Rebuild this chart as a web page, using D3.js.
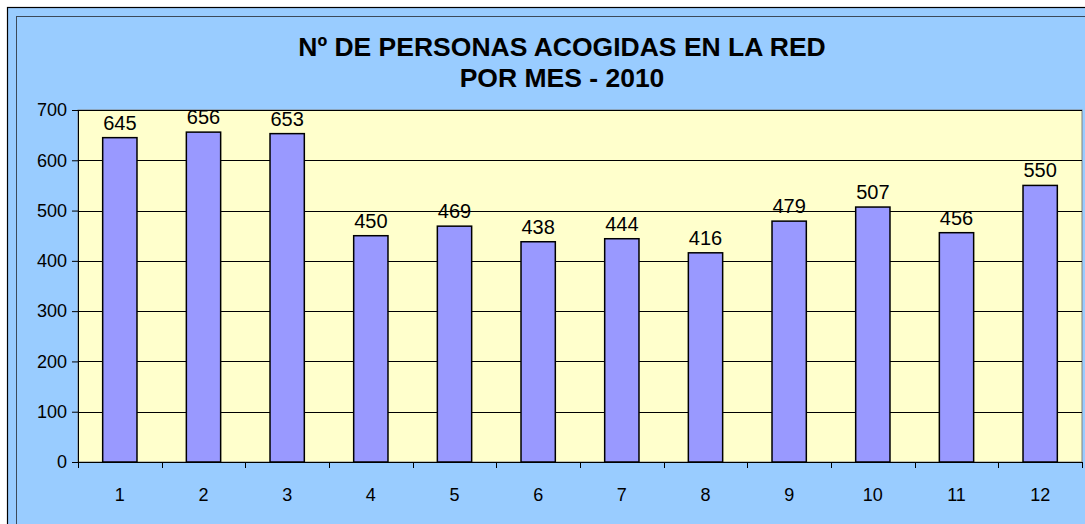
<!DOCTYPE html>
<html>
<head>
<meta charset="utf-8">
<script src="https://cdn.jsdelivr.net/npm/d3@7"></script>
<style>
  body { margin: 0; background: #fff; }
  svg { display: block; font-family: "Liberation Sans", Arial, sans-serif; }
</style>
</head>
<body>
<div id="chart-area"></div>
<script>
const WIDTH = 1085;
const HEIGHT = 524;

// data
const months = ["1", "2", "3", "4", "5", "6", "7", "8", "9", "10", "11", "12"];
const personas = [645, 656, 653, 450, 469, 438, 444, 416, 479, 507, 456, 550];
const yTicks = [0, 100, 200, 300, 400, 500, 600, 700];
const titleLines = ["Nº DE PERSONAS ACOGIDAS EN LA RED", "POR MES - 2010"];

const plot = { left: 78, right: 1082, top: 110, bottom: 462 };

const svg = d3.select("#chart-area").append("svg")
    .attr("width", WIDTH).attr("height", HEIGHT);

// chart frame (cut by the picture edge on right and bottom)
svg.append("rect")
    .attr("x", 7.5).attr("y", 7.5)
    .attr("width", WIDTH + 20).attr("height", HEIGHT + 20)
    .attr("fill", "#99CCFF").attr("stroke", "#000").attr("stroke-width", 1.2);
svg.append("rect")
    .attr("x", 16.5).attr("y", 16.5)
    .attr("width", WIDTH + 20).attr("height", HEIGHT + 20)
    .attr("fill", "none").attr("stroke", "#3c4a5a").attr("stroke-width", 1);

// title
svg.append("text")
    .attr("text-anchor", "middle")
    .attr("font-size", "26.5px").attr("font-weight", "bold")
    .selectAll("tspan").data(titleLines).enter().append("tspan")
    .attr("x", 562)
    .attr("y", (d, i) => 56 + i * 31)
    .text(d => d);

var x = d3.scaleBand().domain(months).range([plot.left, plot.right]).paddingInner(0.59).paddingOuter(0.295);
var xb = d3.scaleBand().domain(months).range([plot.left, plot.right]);
var y = d3.scaleLinear().domain([0, 700]).range([plot.bottom, plot.top]);

// plot area
svg.append("rect")
    .attr("x", plot.left).attr("y", plot.top)
    .attr("width", plot.right - plot.left).attr("height", plot.bottom - plot.top)
    .attr("fill", "#FFFFCC").attr("stroke", "#808080").attr("stroke-width", 1);

// gridlines
svg.append("g").selectAll("line").data(yTicks.slice(1)).enter().append("line")
    .attr("x1", plot.left).attr("x2", plot.right)
    .attr("y1", d => Math.round(y(d)) + 0.5).attr("y2", d => Math.round(y(d)) + 0.5)
    .attr("stroke", "#000").attr("stroke-width", 1);

// bars
svg.append("g").selectAll("rect").data(personas).enter().append("rect")
    .attr("x", (d, i) => x(months[i]))
    .attr("y", d => y(d))
    .attr("width", x.bandwidth())
    .attr("height", d => y(0) - y(d))
    .attr("fill", "#9999FF").attr("stroke", "#000").attr("stroke-width", 1.5);

// value labels
svg.append("g").selectAll("text").data(personas).enter().append("text")
    .attr("x", (d, i) => x(months[i]) + x.bandwidth() / 2)
    .attr("y", d => y(d) - 8)
    .attr("text-anchor", "middle")
    .attr("font-size", "20px")
    .text(d => d);

// y axis
const yAxisCall = d3.axisLeft(y).tickValues(yTicks).tickSize(6).tickPadding(5);
const yAxisGroup = svg.append("g").attr("transform", `translate(${plot.left},0)`).call(yAxisCall);
yAxisGroup.select(".domain").attr("stroke", "#000");
yAxisGroup.selectAll("line").attr("stroke", "#000");
yAxisGroup.selectAll("text").attr("font-size", "18px").attr("font-family", "Liberation Sans, Arial, sans-serif").attr("fill", "#000");

// x axis line and ticks at category boundaries
svg.append("line")
    .attr("x1", plot.left).attr("x2", plot.right)
    .attr("y1", plot.bottom + 0.5).attr("y2", plot.bottom + 0.5)
    .attr("stroke", "#000");
const bounds = months.map(m => xb(m)).concat([plot.right]);
svg.append("g").selectAll("line").data(bounds).enter().append("line")
    .attr("x1", d => Math.round(d) + 0.5).attr("x2", d => Math.round(d) + 0.5)
    .attr("y1", plot.bottom).attr("y2", plot.bottom + 6)
    .attr("stroke", "#000");
svg.append("g").selectAll("text").data(months).enter().append("text")
    .attr("x", d => xb(d) + xb.bandwidth() / 2)
    .attr("y", 501)
    .attr("text-anchor", "middle")
    .attr("font-size", "18px")
    .text(d => d);
</script>
</body>
</html>
